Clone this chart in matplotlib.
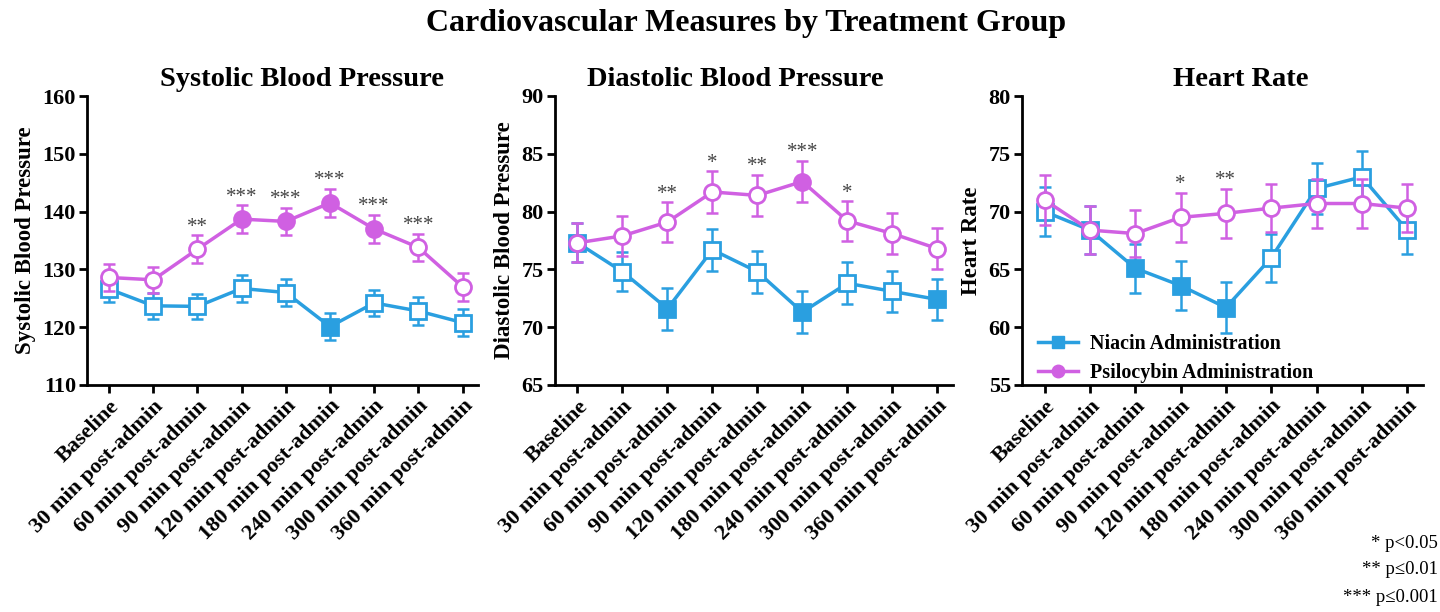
import matplotlib
matplotlib.use("Agg")
import matplotlib.pyplot as plt
import numpy as np
from matplotlib.lines import Line2D

plt.rcParams['font.family'] = ['Liberation Serif', 'DejaVu Serif']

timepoints = ["Baseline", "30 min post-admin", "60 min post-admin", "90 min post-admin",
              "120 min post-admin", "180 min post-admin", "240 min post-admin",
              "300 min post-admin", "360 min post-admin"]

# Systolic
sys_psi = [128.6, 128.2, 133.5, 138.7, 138.3, 141.5, 137.0, 133.8, 127.0]
sys_psi_err = [2.3, 2.2, 2.4, 2.4, 2.4, 2.4, 2.4, 2.4, 2.4]
sys_nia = [126.6, 123.7, 123.6, 126.7, 126.0, 120.1, 124.2, 122.8, 120.8]
sys_nia_err = [2.2, 2.2, 2.2, 2.4, 2.4, 2.3, 2.3, 2.4, 2.3]
sys_psi_filled = [0, 0, 0, 1, 1, 1, 1, 0, 0]
sys_nia_filled = [0, 0, 0, 0, 0, 1, 0, 0, 0]
sys_stars = ["", "", "**", "***", "***", "***", "***", "***", ""]

# Diastolic
dia_psi = [77.3, 77.9, 79.1, 81.7, 81.4, 82.6, 79.2, 78.1, 76.8]
dia_psi_err = [1.7, 1.7, 1.7, 1.8, 1.8, 1.8, 1.7, 1.8, 1.8]
dia_nia = [77.3, 74.8, 71.6, 76.7, 74.8, 71.3, 73.8, 73.1, 72.4]
dia_nia_err = [1.7, 1.7, 1.8, 1.8, 1.8, 1.8, 1.8, 1.8, 1.8]
dia_psi_filled = [0, 0, 0, 0, 0, 1, 0, 0, 0]
dia_nia_filled = [0, 0, 1, 0, 0, 1, 0, 0, 1]
dia_stars = ["", "", "**", "*", "**", "***", "*", "", ""]

# Heart rate
hr_psi = [71.0, 68.4, 68.1, 69.5, 69.85, 70.3, 70.7, 70.7, 70.3]
hr_psi_err = [2.2, 2.1, 2.0, 2.1, 2.1, 2.1, 2.1, 2.1, 2.1]
hr_nia = [70.0, 68.4, 65.1, 63.6, 61.7, 66.0, 72.0, 73.0, 68.4]
hr_nia_err = [2.1, 2.1, 2.1, 2.1, 2.2, 2.1, 2.2, 2.2, 2.1]
hr_psi_filled = [0, 0, 0, 0, 0, 0, 0, 0, 0]
hr_nia_filled = [0, 0, 1, 1, 1, 0, 0, 0, 0]
hr_stars = ["", "", "", "*", "**", "", "", "", ""]

titles = ["Systolic Blood Pressure", "Diastolic Blood Pressure", "Heart Rate"]
ylabels = ["Systolic Blood Pressure", "Diastolic Blood Pressure", "Heart Rate"]
ylims = [(110, 160), (65, 90), (55, 80)]
yticks = [[110, 120, 130, 140, 150, 160], [65, 70, 75, 80, 85, 90], [55, 60, 65, 70, 75, 80]]
legend_labels = ["Niacin Administration", "Psilocybin Administration"]
sig_labels = ["* p<0.05", "** p\u22640.01", "*** p\u22640.001"]

PINK = '#D060E2'
BLUE = '#2A9FE0'

fig = plt.figure(figsize=(14.4, 6.12), dpi=100)
W, H = 1440, 612
axes_px = [(87, 478), (555, 953), (1022, 1423)]
top_px, bot_px = 96, 385
axes = []
for (l, r) in axes_px:
    ax = fig.add_axes([l / W, 1 - bot_px / H, (r - l) / W, (bot_px - top_px) / H])
    axes.append(ax)

panels = [
    (sys_nia, sys_nia_err, sys_nia_filled, sys_psi, sys_psi_err, sys_psi_filled, sys_stars),
    (dia_nia, dia_nia_err, dia_nia_filled, dia_psi, dia_psi_err, dia_psi_filled, dia_stars),
    (hr_nia, hr_nia_err, hr_nia_filled, hr_psi, hr_psi_err, hr_psi_filled, hr_stars),
]

x = np.arange(len(timepoints))
ms = 11.5
for i, ax in enumerate(axes):
    nia, nia_err, nia_f, psi, psi_err, psi_f, stars = panels[i]
    for vals, errs, filled, col, mk, z in [(nia, nia_err, nia_f, BLUE, 's', 3),
                                           (psi, psi_err, psi_f, PINK, 'o', 4)]:
        ax.errorbar(x, vals, yerr=errs, color=col, lw=2.5, capsize=4, capthick=1.8,
                    elinewidth=1.8, fmt='none', zorder=z)
        ax.plot(x, vals, color=col, lw=2.5, zorder=z)
        fc = [col if f else 'white' for f in filled]
        for xi, v, c in zip(x, vals, fc):
            ax.plot([xi], [v], marker=mk, ms=ms, mfc=c, mec=col, mew=2.0, ls='none', zorder=z + 0.5)
    for xi, v, e, s in zip(x, psi, psi_err, stars):
        if s:
            ax.annotate(s, (xi, v + e), xytext=(0, -1), textcoords='offset points',
                        ha='center', va='bottom', fontsize=15, color='#444444')
    ax.set_xlim(-0.5, 8.35)
    ax.set_ylim(*ylims[i])
    ax.set_yticks(yticks[i])
    ax.set_xticks(x)
    ax.set_xticklabels(timepoints, rotation=45, ha='right', rotation_mode='anchor',
                       fontsize=16, fontweight='bold')
    for lab in ax.get_yticklabels():
        lab.set_fontsize(16)
        lab.set_fontweight('bold')
    ax.set_ylabel(ylabels[i], fontsize=16.5, fontweight='bold', labelpad=5)
    for sp in ['top', 'right']:
        ax.spines[sp].set_visible(False)
    for sp in ['left', 'bottom']:
        ax.spines[sp].set_linewidth(2)
    ax.tick_params(axis='both', width=2, length=6, direction='out', pad=2)

title_centers = [302, 735, 1241]
for t, cx in zip(titles, title_centers):
    fig.text(cx / W, 1 - 79 / H, t, ha='center', va='center', fontsize=20.5, fontweight='bold')

fig.text(746 / W, 1 - 24 / H, "Cardiovascular Measures by Treatment Group", ha='center',
         va='center', fontsize=23, fontweight='bold')

handles = [Line2D([], [], color=BLUE, marker='s', ms=9, lw=2.5),
           Line2D([], [], color=PINK, marker='o', ms=9, lw=2.5)]
axes[2].legend(handles, legend_labels,
               loc='lower left', bbox_to_anchor=(-0.005, -0.055), frameon=False,
               prop={'weight': 'bold', 'size': 14.4}, handlelength=2.0, labelspacing=0.45,
               handletextpad=0.6)

for s, yp in zip(sig_labels, [543, 570, 597]):
    fig.text(1438 / W, 1 - yp / H, s, ha='right', va='center', fontsize=13.5)

fig.savefig("out.png", dpi=100)
